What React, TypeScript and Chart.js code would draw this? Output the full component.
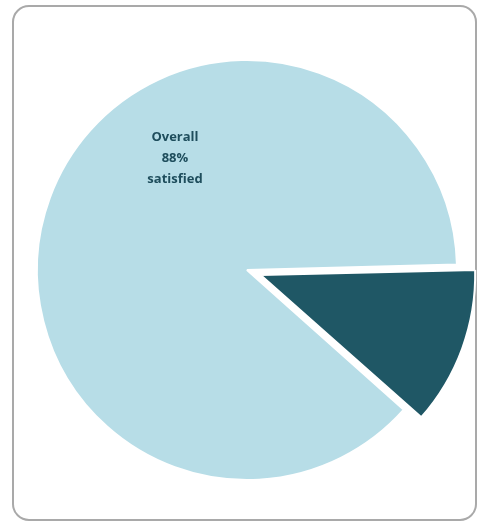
import React, { useEffect, useRef } from "react";
import { Chart, registerables } from "chart.js";

Chart.register(...registerables);

const categories = ["Satisfied", "Not satisfied"];
const values = [88, 12];
const sliceColors = ["#b7dde7", "#1f5765"];
const sliceOffsets = [0, 58];
const labelLines = ["Overall", "88%", "satisfied"];

const labelPlugin = {
  id: "overallLabel",
  afterDatasetsDraw(chart: any) {
    const meta = chart.getDatasetMeta(0);
    const arc = meta.data[0];
    if (!arc) return;
    const { x, y, outerRadius } = arc.getProps(["x", "y", "outerRadius"], true);
    const ctx = chart.ctx;
    ctx.save();
    ctx.fillStyle = "#1e4d5c";
    ctx.font = "bold 13px 'Open Sans'";
    ctx.textAlign = "center";
    ctx.textBaseline = "middle";
    const lx = x - 0.343 * outerRadius;
    const ly = y - 0.53 * outerRadius;
    const lh = 21;
    labelLines.forEach((t, i) => {
      ctx.fillText(t, lx, ly + (i - 1) * lh);
    });
    ctx.restore();
  },
};

export default function App() {
  const ref = useRef<HTMLCanvasElement>(null);
  useEffect(() => {
    if (!ref.current) return;
    const chart = new Chart(ref.current, {
      type: "pie",
      data: {
        labels: categories,
        datasets: [
          {
            data: values,
            backgroundColor: sliceColors,
            borderColor: "#ffffff",
            borderWidth: 2,
            offset: sliceOffsets,
            hoverOffset: 0,
            radius: 210,
            clip: false,
          } as any,
        ],
      },
      options: {
        animation: false,
        responsive: false,
        devicePixelRatio: 1,
        rotation: 131.7,
        layout: { padding: 0 },
        plugins: {
          legend: { display: false },
          tooltip: { enabled: false },
        },
      },
      plugins: [labelPlugin],
    });
    return () => chart.destroy();
  }, []);

  return (
    <div>
      <div
        style={{
          position: "absolute",
          left: 12,
          top: 5,
          width: 465,
          height: 516,
          border: "2px solid #a9a9a9",
          borderRadius: 17,
          boxSizing: "border-box",
          background: "#ffffff",
        }}
      />
      <canvas
        ref={ref}
        width={470}
        height={438}
        style={{ position: "absolute", left: 12, top: 51, width: 470, height: 438 }}
      />
    </div>
  );
}
